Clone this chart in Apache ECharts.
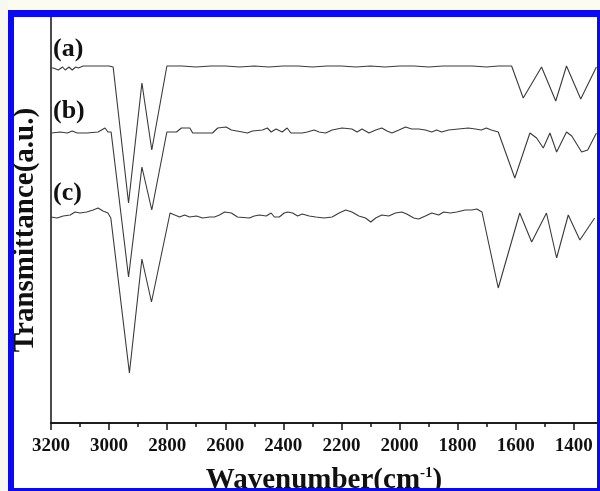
<!DOCTYPE html>
<html>
<head>
<meta charset="utf-8">
<script src="https://cdn.jsdelivr.net/npm/echarts@6/dist/echarts.min.js"></script>
<style>
  html, body { margin: 0; padding: 0; background: #fff; }
  #chart { width: 600px; height: 491px; }
</style>
</head>
<body>
<div id="chart"></div>
<script>
// wavenumber (cm-1) and transmittance (a.u.)
const wavenumA = [3200, 3192, 3175, 3160, 3151, 3138, 3127, 3115, 3106, 3089, 3050, 3000, 2986, 2933, 2887, 2853, 2801, 2750, 2700, 2650, 2600, 2550, 2500, 2450, 2400, 2350, 2300, 2250, 2200, 2150, 2100, 2050, 2000, 1950, 1900, 1850, 1800, 1750, 1700, 1660, 1614, 1574, 1511, 1462, 1425, 1376, 1322]
const transA = [355, 355, 353, 356, 353, 356, 353, 356, 355, 357, 357, 357, 356, 220, 340, 273, 357, 357, 356, 357, 357, 356, 357, 356, 357, 357, 356, 357, 357, 356, 357, 356, 357, 357, 356, 357, 357, 357, 356, 357, 357, 325, 356, 322, 357, 324, 356]

const wavenumB = [3199, 3168, 3144, 3127, 3110, 3076, 3038, 3014, 3004, 2993, 2933, 2887, 2853, 2801, 2768, 2751, 2722, 2712, 2644, 2626, 2597, 2579, 2541, 2524, 2506, 2472, 2455, 2442, 2425, 2404, 2387, 2374, 2335, 2318, 2294, 2277, 2254, 2232, 2198, 2164, 2146, 2129, 2105, 2082, 2061, 2043, 2026, 2002, 1979, 1958, 1934, 1911, 1889, 1872, 1855, 1831, 1797, 1763, 1739, 1718, 1701, 1684, 1660, 1603, 1551, 1528, 1505, 1482, 1459, 1425, 1407, 1373, 1352, 1322]
const transB = [290, 291, 290, 292, 290, 290, 291, 295, 291, 291, 146, 256, 213, 291, 291, 295, 295, 290, 290, 295, 296, 293, 291, 290, 292, 293, 295, 291, 294, 291, 295, 290, 290, 291, 293, 291, 290, 293, 295, 294, 291, 294, 290, 293, 295, 292, 290, 293, 296, 294, 294, 293, 291, 293, 291, 293, 294, 295, 294, 293, 295, 293, 291, 245, 290, 285, 275, 290, 271, 291, 287, 271, 273, 290]

const wavenumC = [3200, 3179, 3158, 3134, 3117, 3100, 3077, 3055, 3038, 3021, 3004, 2994, 2930, 2887, 2854, 2790, 2774, 2757, 2740, 2723, 2699, 2678, 2654, 2637, 2620, 2602, 2579, 2558, 2517, 2500, 2482, 2459, 2442, 2431, 2414, 2397, 2385, 2368, 2351, 2335, 2311, 2288, 2260, 2232, 2208, 2185, 2164, 2140, 2117, 2099, 2082, 2061, 2037, 2014, 1992, 1975, 1951, 1934, 1911, 1889, 1865, 1848, 1825, 1803, 1774, 1751, 1734, 1716, 1660, 1586, 1545, 1494, 1459, 1419, 1379, 1328]
const transC = [206, 205, 207, 208, 211, 210, 211, 213, 215, 212, 210, 205, 50, 164, 121, 210, 208, 206, 208, 206, 207, 205, 206, 206, 208, 211, 210, 206, 205, 207, 208, 207, 210, 206, 206, 210, 211, 210, 207, 209, 207, 206, 205, 206, 210, 213, 211, 207, 205, 201, 205, 208, 207, 210, 211, 209, 205, 204, 207, 210, 208, 211, 210, 211, 213, 213, 214, 211, 135, 210, 181, 210, 165, 208, 183, 205]

const tickLabels = [3200, 3000, 2800, 2600, 2400, 2200, 2000, 1800, 1600, 1400]
const minorTicks = [3100, 2900, 2700, 2500, 2300, 2100, 1900, 1700, 1500]
const seriesNames = ['(a)', '(b)', '(c)']

const serif = "'Liberation Serif', 'Times New Roman', serif"
const frameBlue = '#0a0af2'
const lineColor = '#3a3a3a'

function zip(xs, ys) {
  return xs.map((x, i) => [x, ys[i]])
}

const chart = echarts.init(document.getElementById('chart'))

const gridBox = { left: 51, right: 3, top: 17, bottom: 68, outerBoundsMode: 'none' }
const baseX = {
  type: 'value',
  min: 1320,
  max: 3200,
  inverse: true,
  position: 'bottom',
  splitLine: { show: false }
}
const baseY = {
  type: 'value',
  min: 0,
  max: 406,
  axisTick: { show: false },
  axisLabel: { show: false },
  splitLine: { show: false }
}

chart.setOption({
  backgroundColor: '#fff',
  animation: false,
  grid: [gridBox, Object.assign({}, gridBox)],
  xAxis: [
    Object.assign({}, baseX, {
      gridIndex: 0,
      name: '{t|Wavenumber(cm}{s|-1}{t|)}',
      nameLocation: 'middle',
      nameGap: 43,
      nameTextStyle: {
        rich: {
          t: { fontSize: 29, fontWeight: 'bold', fontFamily: serif, color: '#111' },
          s: { fontSize: 15, fontWeight: 'bold', fontFamily: serif, color: '#111', verticalAlign: 'top' }
        }
      },
      axisLine: { lineStyle: { color: '#111', width: 1.5 } },
      axisTick: { customValues: tickLabels, length: 7, lineStyle: { color: '#111', width: 1.5 } },
      axisLabel: {
        customValues: tickLabels,
        formatter: v => String(v),
        margin: 14,
        fontSize: 19,
        fontWeight: 'bold',
        fontFamily: serif,
        color: '#111'
      }
    }),
    Object.assign({}, baseX, {
      gridIndex: 1,
      axisLine: { show: true, lineStyle: { color: '#111', width: 1.5 } },
      axisTick: { customValues: minorTicks, length: 4, lineStyle: { color: '#111', width: 1.5 } },
      axisLabel: { show: false }
    })
  ],
  yAxis: [
    Object.assign({}, baseY, {
      gridIndex: 0,
      axisLine: { show: true, lineStyle: { color: '#111', width: 1.5 } }
    }),
    Object.assign({}, baseY, {
      gridIndex: 1,
      axisLine: { show: false }
    })
  ],
  series: [
    { name: seriesNames[0], data: zip(wavenumA, transA) },
    { name: seriesNames[1], data: zip(wavenumB, transB) },
    { name: seriesNames[2], data: zip(wavenumC, transC) }
  ].map(s => Object.assign(s, {
    type: 'line',
    xAxisIndex: 0,
    yAxisIndex: 0,
    showSymbol: false,
    lineStyle: { color: lineColor, width: 1.1 }
  })),
  graphic: [
    { type: 'text', x: 26, y: 230, rotation: Math.PI / 2, z: 50,
      style: { text: 'Transmittance(a.u.)', fontSize: 29, fontWeight: 'bold', fontFamily: serif,
        fill: '#111', align: 'center', verticalAlign: 'middle' } },
    { type: 'text', x: 53, y: 49, z: 50,
      style: { text: seriesNames[0], fontSize: 26, fontWeight: 'bold', fontFamily: serif, fill: '#111', verticalAlign: 'middle' } },
    { type: 'text', x: 53, y: 111, z: 50,
      style: { text: seriesNames[1], fontSize: 26, fontWeight: 'bold', fontFamily: serif, fill: '#111', verticalAlign: 'middle' } },
    { type: 'text', x: 53, y: 193, z: 50,
      style: { text: seriesNames[2], fontSize: 26, fontWeight: 'bold', fontFamily: serif, fill: '#111', verticalAlign: 'middle' } },
    // outer frame
    { type: 'rect', z: 100, shape: { x: 0, y: 0, width: 600, height: 10 }, style: { fill: '#fbfbef' } },
    { type: 'rect', z: 100, shape: { x: 0, y: 0, width: 8, height: 491 }, style: { fill: '#f8f8f2' } },
    { type: 'rect', z: 101, shape: { x: 8, y: 10, width: 592, height: 7 }, style: { fill: frameBlue } },
    { type: 'rect', z: 101, shape: { x: 8, y: 10, width: 6, height: 481 }, style: { fill: frameBlue } },
    { type: 'rect', z: 101, shape: { x: 597, y: 10, width: 3, height: 481 }, style: { fill: frameBlue } },
    { type: 'rect', z: 101, shape: { x: 8, y: 488, width: 592, height: 3 }, style: { fill: frameBlue } }
  ]
})
</script>
</body>
</html>
